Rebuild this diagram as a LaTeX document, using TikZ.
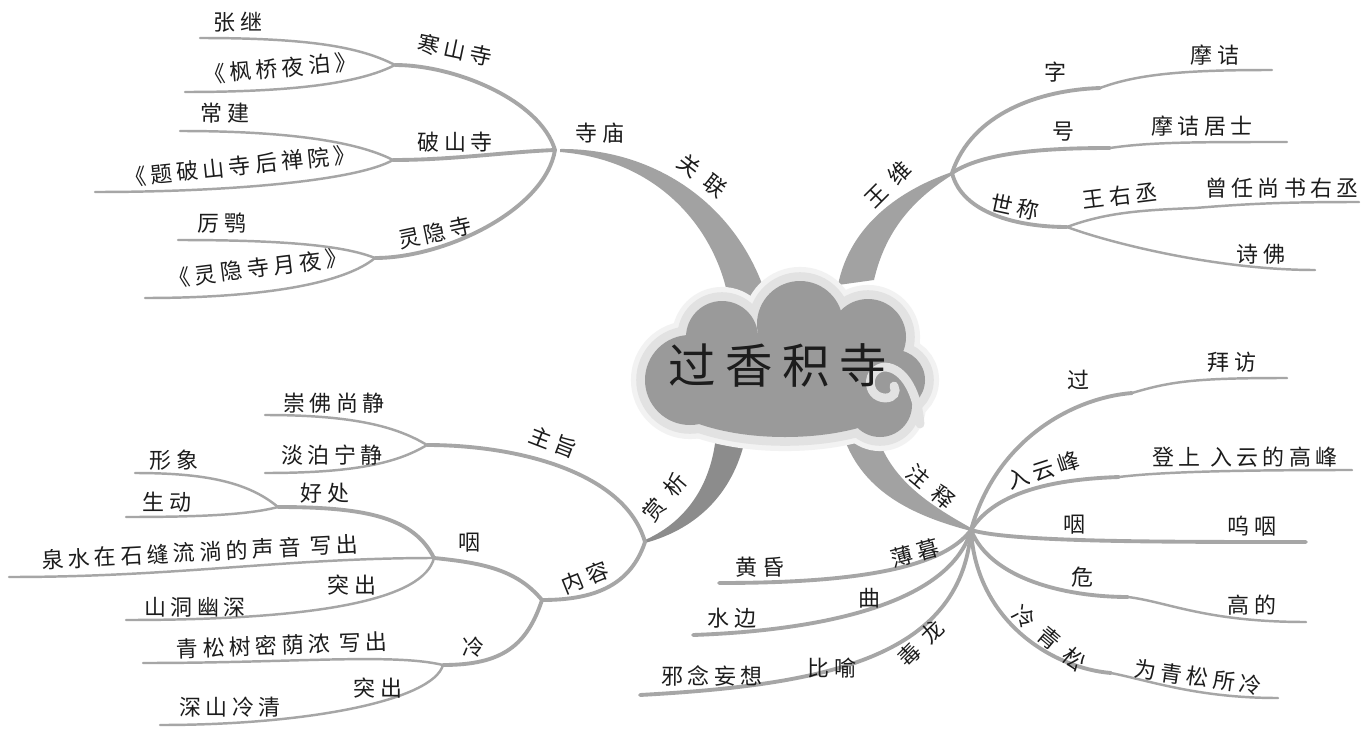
\documentclass[tikz,border=0pt]{standalone}
\usepackage{fontspec}
\usepackage{tikz}
\newfontfamily\cjk[LetterSpace=20]{Noto Sans CJK SC}
\newfontfamily\cjkwide[LetterSpace=48]{Noto Sans CJK SC}
\definecolor{MapLine}{HTML}{A6A6A6}
\definecolor{MapTrunk}{HTML}{A2A2A2}
\definecolor{MapTrunkDark}{HTML}{8C8C8C}
\definecolor{CloudFill}{HTML}{9A9A9A}
\definecolor{CloudRim}{HTML}{E2E2E2}
\definecolor{CloudHalo}{HTML}{F2F2F2}
\definecolor{MapText}{HTML}{1C1C1C}
\tikzset{
  txt/.style={font=\cjk\fontsize{12.5}{14}\selectfont, text=MapText, inner sep=0pt},
  tilttxt/.style={font=\cjkwide\fontsize{12.5}{14}\selectfont, text=MapText, inner sep=0pt},
  title/.style={font=\cjk\fontsize{27}{30}\selectfont, text=MapText, inner sep=0pt},
  branch/.style={draw=MapLine, line width=2.2pt, line cap=round},
  leaf/.style={draw=MapLine, line width=1.4pt, line cap=round}
}

\begin{document}
\begin{tikzpicture}[x=0.02cm,y=-0.02cm]
      \fill[white] (0,0) rectangle (1362,730);
      \useasboundingbox (0,0) rectangle (1362,730);
      \fill[MapTrunk] (560,149) .. controls (650,148) and (735,200) .. (766,295) -- (728,297) .. controls (715,230) and (660,160) .. (560,152) -- cycle;
      \fill[MapTrunk] (952,172) .. controls (900,190) and (850,225) .. (838,285) -- (874,280) .. controls (885,232) and (912,200) .. (952,175) -- cycle;
      \fill[MapTrunkDark] (645,540) .. controls (690,520) and (712,480) .. (716,435) -- (746,435) .. controls (735,490) and (700,528) .. (645,543) -- cycle;
      \fill[MapTrunk] (971,531) .. controls (910,515) and (860,490) .. (842,432) -- (876,432) .. controls (890,480) and (930,505) .. (971,528) -- cycle;
      \foreach \cx/\cy/\rx/\ry in {785/385/130/52,690/380/45/45,722/337/36/36,800/324/43/43,868/337/38/38,895/380/30/30,880/405/32/32} {
        \draw[CloudHalo, line width=16pt] (\cx,\cy) ellipse [x radius=\rx, y radius=\ry];
      }
      \foreach \cx/\cy/\rx/\ry in {785/385/130/52,690/380/45/45,722/337/36/36,800/324/43/43,868/337/38/38,895/380/30/30,880/405/32/32} {
        \draw[CloudRim, line width=10pt] (\cx,\cy) ellipse [x radius=\rx, y radius=\ry];
      }
      \foreach \cx/\cy/\rx/\ry in {785/385/130/52,690/380/45/45,722/337/36/36,800/324/43/43,868/337/38/38,895/380/30/30,880/405/32/32} {
        \fill[CloudFill] (\cx,\cy) ellipse [x radius=\rx, y radius=\ry];
      }
      \draw[CloudRim, line width=5pt, line cap=round] (920,424) .. controls (918,395) and (905,368) .. (885,367) .. controls (866,368) and (865,397) .. (885,398) .. controls (894,398) and (897,392) .. (894,386);
      \node[title] (title) at (778,365) {过香积寺};
      \foreach \n/\x/\y in {temple/555/150,hanshan/395/65,poshan/393/160,lingyin/375/258,
        zjend/200/38,fqend/185/92,cjend/180/131,tpend/95/192,leend/178/240,yyend/145/298,
        wangwei/952/173,zi/1100/88,mjend/1272/70,hao/1110/148,jsend/1287/142,shicheng/1067/227,wyc/1195/208,zrend/1359/202,sfend/1315/270,
        shangxi/645/542,zhuzhi/427/445,cfend/265/415,dbend/265/473,neirong/542/600,yan/434/558,haochu/278/507,xxend/135/473,sdend/126/517,
        qsend/9/577,sjend/126/620,leng/443/665,qsmend/143/663,slend/160/725,
        zhushi/971/530,guo/1132/393,bfend/1287/378,ruyun/1119/477,gfend/1352/470,wyend/1306/542,wei/1128/597,gdend/1306/622,
        lqs/1111/673,wqsend/1278/698,hhend/719/583,sbend/693/635,xnend/640/695} {
        \coordinate (\n) at (\x,\y);
      }
      \foreach \a/\b/\ax/\ay/\bx/\by in {temple/hanshan/-15/-50/60/0,temple/poshan/-50/2/60/0,temple/lingyin/-10/60/70/0,
        wangwei/zi/20/-60/-60/2,wangwei/hao/30/-20/-70/0,wangwei/shicheng/10/40/-50/0,
        shangxi/zhuzhi/-20/-70/90/0,shangxi/neirong/-15/45/50/0,neirong/yan/-25/-30/50/5,neirong/leng/-15/45/60/0,yan/haochu/-20/-40/90/0,
        zhushi/guo/25/-90/-60/5,zhushi/ruyun/25/-40/-60/2,zhushi/wyend/40/12/-150/0,zhushi/wei/20/50/-60/0,zhushi/lqs/5/90/-60/-5,
        zhushi/hhend/-30/40/130/0,zhushi/sbend/-20/70/140/-5,zhushi/xnend/-10/130/180/-10} {
        \draw[branch] (\a) .. controls +(\ax,\ay) and +(\bx,\by) .. (\b);
      }
      \foreach \a/\b/\ax/\ay/\bx/\by in {hanshan/zjend/-35/-18/110/0,hanshan/fqend/-35/18/110/0,poshan/cjend/-35/-18/110/0,poshan/tpend/-35/20/140/0,
        lingyin/leend/-30/-12/110/0,lingyin/yyend/-30/25/120/0,
        zi/mjend/40/-15/-80/0,hao/jsend/40/-6/-90/0,shicheng/wyc/40/-15/-50/2,wyc/zrend/50/-4/-80/0,shicheng/sfend/40/15/-100/0,
        zhuzhi/cfend/-30/-18/90/0,zhuzhi/dbend/-30/18/90/0,haochu/xxend/-30/-25/70/0,haochu/sdend/-30/8/70/0,
        yan/qsend/-150/0/170/0,yan/sjend/-10/40/200/0,leng/qsmend/-50/-12/150/0,leng/slend/-10/35/150/0,
        guo/bfend/40/-12/-90/0,ruyun/gfend/40/-5/-120/0,wei/gdend/40/5/-100/0,lqs/wqsend/40/8/-80/0} {
        \draw[leaf] (\a) .. controls +(\ax,\ay) and +(\bx,\by) .. (\b);
      }
      \foreach \n/\x/\y/\r/\t in {zhangji/238/22/0/张继,hanshansi/455/50/-12/寒山寺,fengqiao/280/68/5/《枫桥夜泊》,
        changjian/225/113/0/常建,poshansi/455/142/0/破山寺,tiposhan/240/166/6/《题破山寺后禅院》,
        lie/222/223/0/厉鹗,lingyinsi/435/233/12/灵隐寺,yueye/258/268/7/《灵隐寺月夜》,simiao/600/133/0/寺庙,
        zit/1055/72/0/字,mojie/1215/55/0/摩诘,haot/1063/132/0/号,mjjs/1202/126/0/摩诘居士,
        shicht/1015/207/-12/世称,wangyc/1120/196/7/王右丞,zengren/1282/188/0/曾任尚书右丞,shifo/1261/254/0/诗佛,
        zhuzhit/553/442/-21/主旨,chongfo/334/403/0/崇佛尚静,danbo/332/455/0/淡泊宁静,
        neirongt/585/578/22/内容,yant/469/543/0/咽,haochut/325/493/0/好处,xingxiang/174/460/0/形象,shengdong/167/502/0/生动,
        quanshui/200/552/3/泉水在石缝流淌的声音 写出,tuchua/352/585/0/突出,shanjian/195/607/0/山洞幽深,
        lengt/473/647/0/冷,qingsong/282/645/2/青松树密荫浓 写出,tuchub/378/688/0/突出,shenshan/230/707/0/深山冷清,
        guot/1078/380/0/过,baifang/1232/362/0/拜访,ruyunt/1043/470/18/入云峰,
        dengshang/1245/457/0/登上 入云的高峰,yanb/1074/525/0/咽,wuyan/1252/526/0/呜咽,weit/1082/577/0/危,gaode/1252/605/0/高的,
        weiqs/1198/677/-8/为青松所冷,bomu/915/553/15/薄暮,huanghun/760/567/0/黄昏,qut/869/598/0/曲,shuibian/732/618/0/水边,
        biyu/832/668/0/比喻,xienian/712/676/0/邪念妄想} {
        \node[txt, rotate=\r] (\n) at (\x,\y) {\t};
      }
      \foreach \n/\x/\y/\r/\t in {guanlian/702/176/-38/关联,wangweil/888/184/45/王维,shangxit/665/497/50/赏析,
        zhushit/931/487/-40/注释,lqst/1049/638/-40/冷青松,dulong/921/643/45/毒龙} {
        \node[tilttxt, rotate=\r] (\n) at (\x,\y) {\t};
      }
\end{tikzpicture}
\end{document}
